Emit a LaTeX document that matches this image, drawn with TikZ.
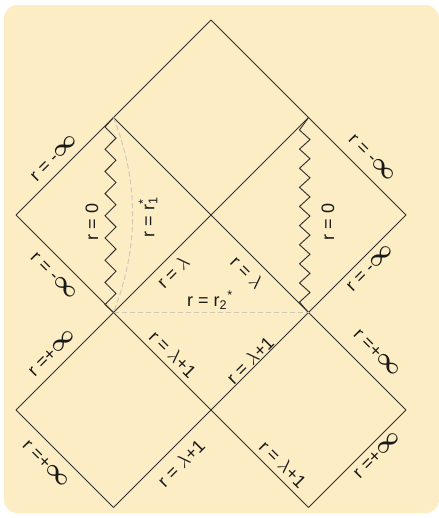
\documentclass[tikz,border=0pt]{standalone}
\usepackage{fontspec}
\setmainfont{Liberation Sans}

\definecolor{bgyellow}{RGB}{253,237,196}
\definecolor{edgegray}{RGB}{50,50,50}
\definecolor{dashgray}{RGB}{208,200,178}

\tikzset{every picture/.style={line width=0.75pt}}
\tikzset{
  horizon/.style={draw=edgegray, line width=0.7pt},
  singular/.style={draw=edgegray, line width=0.7pt, line join=miter},
  surface/.style={draw=dashgray, line width=0.7pt, dash pattern=on 4pt off 2pt},
  rlabel/.style={inner sep=0.75pt, text=black!90, font=\fontsize{13.5}{16}\selectfont},
}
\newcommand{\infsym}{{\fontsize{16}{16}\selectfont\boldmath$\infty$}}

\begin{document}
\begin{tikzpicture}[x=0.75pt,y=0.75pt,yscale=-1,xscale=1]
\useasboundingbox (0,0) rectangle (439,518);

%Background
\fill[bgyellow, rounded corners=10] (4,5) rectangle (439,513);

%Corners of the diagram
\coordinate (T)   at (211,20);
\coordinate (UL)  at (113.5,117.5);
\coordinate (UR)  at (308.5,117.5);
\coordinate (L)   at (16,215);
\coordinate (C)   at (211,215);
\coordinate (R)   at (406,215);
\coordinate (LL)  at (113.5,312.5);
\coordinate (LR)  at (308.5,312.5);
\coordinate (BL)  at (16,410);
\coordinate (BC)  at (211,410);
\coordinate (BR)  at (406,410);
\coordinate (BBL) at (113.5,507.5);
\coordinate (BBR) at (308.5,507.5);

%Straight Lines
\draw[horizon] (T) -- (L);
\draw[horizon] (T) -- (R);
\draw[horizon] (L) -- (LL) -- (BC) -- (BBR);
\draw[horizon] (R) -- (LR) -- (BC) -- (BBL);
\draw[horizon] (UL) -- (C) -- (LR) -- (BR);
\draw[horizon] (UR) -- (C) -- (LL) -- (BL);
\draw[horizon] (BL) -- (BBL);
\draw[horizon] (BR) -- (BBR);

%Zigzag singularities
\draw[singular] (UL) \foreach \i in {0,...,16} { -- ({105+11*mod(\i,2)},{127+\i*11.1}) } -- (LL);
\draw[singular] (UR) \foreach \i in {0,...,18} { -- ({299.5+10.5*mod(\i,2)},{130+\i*9.56}) } -- (LR);

%Dashed surfaces
\draw[surface] (UL) .. controls (139,182) and (139,247) .. (LL);
\draw[surface] (LL) -- (LR);

% Text Node
\node[rlabel, rotate=45]  (minfA) at (54,158)  {r = -\infsym};
\node[rlabel, rotate=-45] (minfB) at (54,276)  {r = -\infsym};
\node[rlabel, rotate=90]  (zeroA) at (92,222)  {r = 0};
\node[rlabel, rotate=90]  (rone)  at (148,217) {r = r\rlap{\textsuperscript{*}}\textsubscript{1}};
\node[rlabel, rotate=45]  (lamA)  at (173,272) {r = $\lambda$};
\node[rlabel, rotate=-45] (lamB)  at (247,272) {r = $\lambda$};
\node[rlabel]             (rtwo)  at (210,300) {r = r\textsubscript{2}\textsuperscript{*}};
\node[rlabel, rotate=-45] (minfC) at (372,158) {r = -\infsym};
\node[rlabel, rotate=45]  (minfD) at (370,268) {r = -\infsym};
\node[rlabel, rotate=90]  (zeroB) at (328,222) {r = 0};
% Text Node
\node[rlabel, rotate=45]  (pinfA) at (52,353)  {r =+\infsym};
\node[rlabel, rotate=-45] (lpoA)  at (173,354) {r = $\lambda$+1};
\node[rlabel, rotate=-45] (pinfB) at (46,464)  {r =+\infsym};
\node[rlabel, rotate=45]  (lpoB)  at (181,463) {r = $\lambda$+1};
\node[rlabel, rotate=45]  (lpoC)  at (250,360) {r = $\lambda$+1};
\node[rlabel, rotate=-45] (pinfC) at (377,353) {r =+\infsym};
\node[rlabel, rotate=-45] (lpoD)  at (283,464) {r = $\lambda$+1};
\node[rlabel, rotate=45]  (pinfD) at (377,455) {r =+\infsym};

\end{tikzpicture}
\end{document}
